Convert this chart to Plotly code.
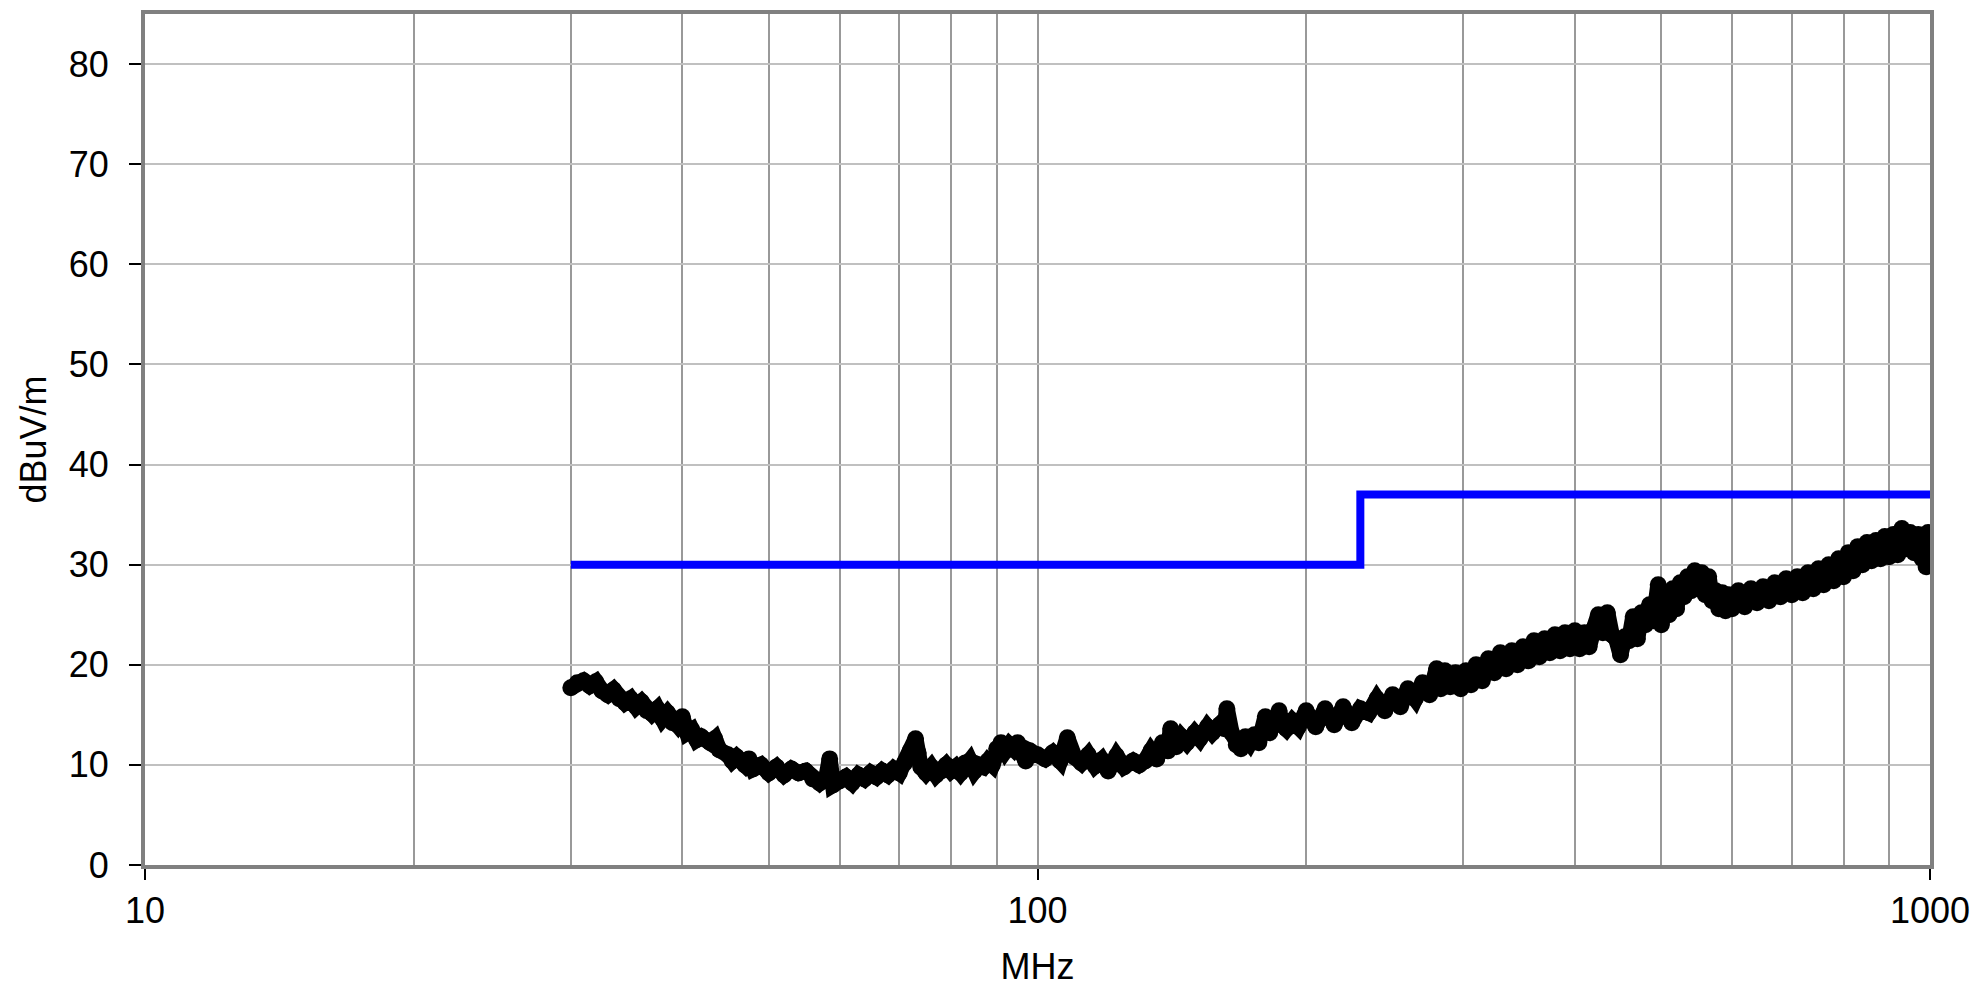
import plotly.graph_objects as go

meas_freq = [30, 30.5, 31, 31.5, 32, 32.5, 33, 33.5, 34, 34.5, 35, 35.5, 36, 36.5, 37, 37.5,
             38, 38.5, 39, 39.5, 40, 40.5, 41, 41.5, 42, 43, 43.5, 44, 45, 45.5, 46, 47, 47.5,
             48, 49, 50, 51, 52, 53, 54, 55, 56, 57, 58, 58.5, 59, 60, 61, 62, 63, 64, 65, 66,
             67, 68, 69, 70, 71, 72, 73, 73.5, 74, 75, 76, 77, 78, 79, 80, 81, 82, 83, 84, 85,
             86, 87, 88, 89, 90, 91, 92, 93, 94, 95, 96, 97, 98, 99, 100, 102, 104, 106, 108,
             110, 112, 114, 116, 118, 120, 122.6, 125, 128, 130, 132, 134, 136, 138, 140, 141,
             143, 145, 147, 150, 152, 155, 157, 160, 162, 163, 165, 167, 169, 171, 173, 175,
             177, 180, 182, 184, 186.5, 188, 190, 193, 196, 200, 205, 210, 215, 220, 225, 230,
             235, 240, 245, 250, 255, 260, 265, 270, 275, 280, 283, 286, 290, 294, 298, 302,
             306, 310, 315, 320, 325, 330, 335, 340, 345, 350, 355, 360, 365, 370, 375, 380,
             385, 390, 395, 400, 405, 410, 415, 420, 425, 430, 435, 440, 445, 450, 455, 460,
             465, 470, 475, 480, 485, 490, 496, 500, 505, 510, 515, 520, 525, 530, 535, 540,
             545, 550, 555, 560, 565, 570, 575, 580, 585, 590, 595, 600, 610, 620, 630, 640,
             650, 660, 670, 680, 690, 700, 710, 720, 730, 740, 750, 760, 770, 780, 790, 800,
             810, 820, 830, 840, 850, 860, 870, 880, 890, 900, 910, 920, 930, 940, 950, 960,
             970, 980, 985, 990, 995, 997, 1000]
meas_level = [17.7, 18.2, 18.4, 17.9, 18.3, 17.4, 17.0, 17.5, 16.6, 16.2, 16.6, 15.8, 16.3, 15.4, 15.1, 15.6,
              14.6, 15.2, 14.2, 14.0, 14.8, 13.2, 13.5, 12.5, 12.8, 12.2, 12.6, 11.5, 11.0, 10.4, 10.8, 10.0, 10.6,
              9.6, 10.0, 9.2, 9.8, 9.0, 9.6, 9.2, 9.4, 8.6, 8.2, 8.8, 10.6, 8.0, 8.4, 8.8, 8.2, 9.0, 8.6, 9.2, 8.8,
              9.4, 9.0, 9.6, 9.2, 10.2, 11.4, 12.6, 11.2, 9.8, 9.2, 9.8, 9.0, 9.4, 10.0, 9.4, 9.8, 9.2, 10.2, 10.4, 9.4,
              10.0, 9.8, 10.4, 10.0, 11.6, 12.2, 11.4, 12.0, 11.6, 12.2, 11.2, 10.4, 11.4, 11.0, 11.0, 10.6, 11.2, 10.4, 12.7,
              10.8, 10.2, 11.0, 9.9, 10.5, 9.4, 10.9, 9.8, 10.4, 10.0, 10.4, 11.4, 10.6, 12.2, 11.4, 13.6,
              11.8, 12.8, 12.2, 13.2, 12.6, 13.8, 13.2, 14.0, 13.6, 15.6, 13.2, 12.0, 11.6, 12.8, 12.2, 13.0,
              12.2, 14.8, 13.2, 14.2, 15.4, 14.0, 13.6, 14.4, 13.8, 15.4, 13.8, 15.6, 14.0, 15.8, 14.2, 15.6,
              15.2, 16.6, 15.4, 17.0, 15.8, 17.6, 16.6, 18.2, 17.0, 19.6, 17.6, 19.4, 17.8, 19.2, 17.6, 19.4,
              18.0, 20.0, 18.4, 20.6, 19.2, 21.2, 19.6, 21.4, 20.0, 21.8, 20.4, 22.4, 20.8, 22.6, 21.2, 23.0,
              21.4, 23.2, 21.6, 23.4, 21.6, 23.2, 21.8, 23.6, 25.0, 23.2, 25.2, 23.0, 22.6, 21.0, 22.8, 22.4,
              24.8, 22.6, 25.2, 24.0, 26.0, 24.4, 28.0, 24.0, 25.8, 25.0, 27.6, 25.6, 28.2, 26.8, 28.8, 27.4,
              29.4, 27.6, 29.2, 27.0, 28.8, 26.4, 27.4, 25.6, 27.2, 25.4, 27.0, 25.6, 27.4, 25.8, 27.6, 26.2,
              27.8, 26.4, 28.2, 26.8, 28.6, 27.0, 28.8, 27.2, 29.2, 27.6, 29.6, 28.0, 30.0, 28.4, 30.6, 28.8,
              31.2, 29.4, 31.8, 30.0, 32.2, 30.4, 32.4, 30.6, 32.8, 30.8, 33.0, 31.0, 33.6, 31.6, 33.2, 31.2,
              33.0, 30.6, 32.4, 29.8, 33.2, 30.0, 31.6]

# Limit line (MHz, dBuV/m)
limit_freq = [30, 230, 1000]
limit_level = [30, 37, 37]

x_tick_vals = [10, 100, 1000]
x_tick_text = ["10", "100", "1000"]
y_tick_vals = [0, 10, 20, 30, 40, 50, 60, 70, 80]

FONT = "Liberation Sans, Arial, Helvetica, sans-serif"

fig = go.Figure()
fig.add_trace(go.Scatter(
    x=meas_freq, y=meas_level, mode="lines+markers",
    line=dict(color="black", width=16),
    marker=dict(color="black", size=17),
    hoverinfo="x+y", showlegend=False))
fig.add_trace(go.Scatter(
    x=limit_freq, y=limit_level, mode="lines",
    line=dict(color="#0000ff", width=8, shape="hv"),
    showlegend=False))

fig.update_layout(
    width=1967, height=979,
    margin=dict(l=137, r=45, t=2, b=122),
    paper_bgcolor="white", plot_bgcolor="white",
    font=dict(family=FONT, color="black", size=36),
    showlegend=False,
)
fig.update_xaxes(
    type="log", range=[1, 3],
    tickvals=x_tick_vals, ticktext=x_tick_text,
    ticks="outside", ticklen=11, tickwidth=1.5, tickcolor="black",
    tickfont=dict(size=36),
    showgrid=True, gridcolor="#999999", gridwidth=1.5,
    minor=dict(dtick="D1", showgrid=True, gridcolor="#999999", gridwidth=1.5, ticks=""),
    showline=True, linecolor="#808080", linewidth=4, mirror=True,
    zeroline=False,
    title=dict(text="MHz", font=dict(size=36), standoff=26),
)
fig.update_yaxes(
    range=[0, 85],
    tickvals=y_tick_vals,
    ticks="outside", ticklen=12, tickwidth=1.5, tickcolor="black",
    tickfont=dict(size=36), ticklabelstandoff=13,
    showgrid=True, gridcolor="#c0c0c0", gridwidth=2,
    showline=True, linecolor="#808080", linewidth=4, mirror=True,
    zeroline=False,
    title=dict(text="dBuV/m", font=dict(size=36), standoff=12),
)

fig.write_html("out.html")
